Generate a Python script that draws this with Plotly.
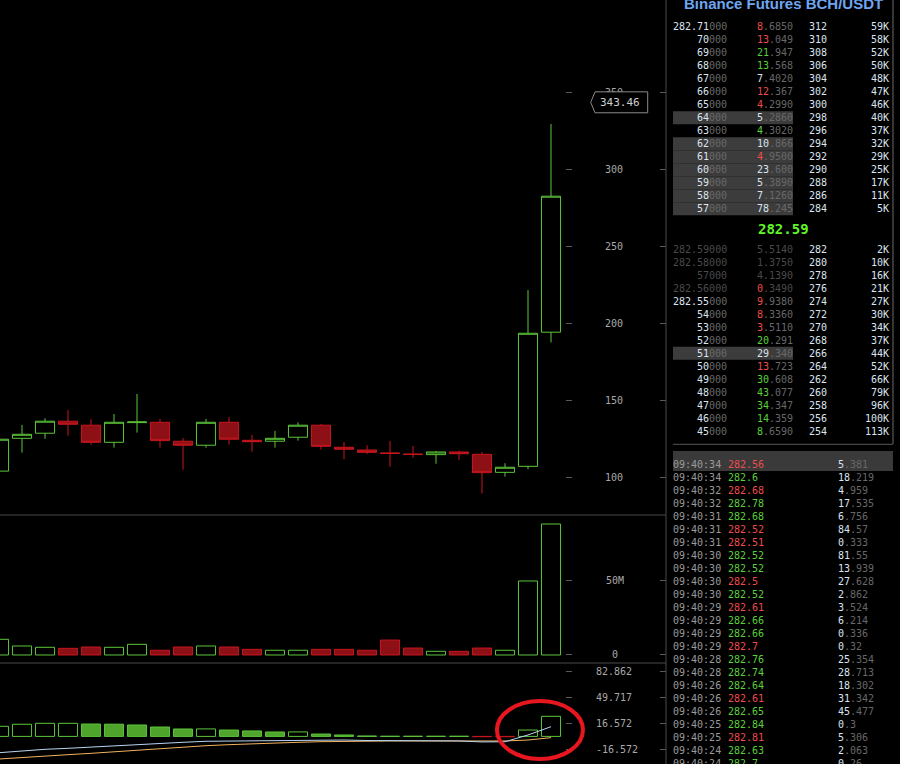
import plotly.graph_objects as go

W, H = 900, 764
MONO = "DejaVu Sans Mono"

# candles, oldest first (the first one is cut by the left edge)
opens = [104.0, 125.3, 128.6, 136.4, 133.8, 122.7, 135.5, 135.7, 123.4, 120.8, 135.7, 124.0, 123.4,
         126.0, 133.8, 119.5, 117.7, 115.8, 115.1, 114.7, 116.4, 114.9, 103.2, 107.1, 194.2]
closes = [124.7, 127.9, 136.4, 134.4, 122.7, 135.7, 135.9, 123.8, 120.8, 135.7, 124.7, 123.1, 125.3,
          133.8, 120.1, 118.2, 116.2, 115.5, 114.8, 116.4, 115.3, 103.0, 106.5, 193.5, 282.5]
highs = [125.5, 134.0, 138.3, 143.7, 137.7, 141.1, 154.1, 137.9, 125.5, 137.9, 139.2, 127.5, 130.1,
         135.7, 134.6, 122.9, 120.8, 123.6, 120.3, 117.1, 117.3, 116.4, 109.1, 221.6, 329.4]
lows = [103.0, 116.0, 125.0, 127.0, 121.2, 119.2, 129.0, 119.2, 104.9, 119.2, 121.2, 116.6, 119.2,
        123.8, 117.9, 111.7, 115.1, 106.9, 112.7, 108.8, 111.2, 89.4, 100.4, 105.2, 187.6]
volume_m = [10.6, 6.1, 5.2, 4.5, 5.4, 5.2, 7.2, 3.2, 5.4, 6.1, 5.4, 3.8, 3.2,
            3.2, 3.8, 3.8, 3.2, 10.1, 4.7, 2.5, 2.5, 4.7, 3.2, 50.0, 88.5]
macd_hist = [12.8, 15.4, 16.6, 16.6, 15.7, 15.5, 14.5, 11.9, 9.4, 9.5, 8.1, 6.9, 5.6,
             5.7, 3.0, 1.8, 0.5, 0.2, 0.2, 0.2, 0.2, -0.4, -0.4, 8.1, 25.5]
macd_dif = [-20.7, -18.5, -16.4, -15.1, -13.4, -11.8, -10.0, -8.8, -7.5, -6.2, -5.8, -5.4, -5.0,
            -4.6, -4.6, -4.6, -5.2, -5.2, -5.4, -5.6, -5.8, -7.0, -6.8, 1.8, 12.3]
macd_dea = [-28.7, -26.6, -24.9, -23.2, -21.5, -19.4, -17.3, -15.1, -13.1, -11.8, -10.5, -9.3, -8.4,
            -7.5, -6.7, -6.2, -5.8, -5.8, -5.8, -5.8, -5.8, -5.8, -5.8, -4.6, -1.6]
last_price_tag = 343.46

price_ticks = [100, 150, 200, 250, 300, 350]
volume_ticks = [0, 50e6]
volume_tick_text = ["\u00a00", "50M"]
macd_ticks = [-16.572, 16.572, 49.717, 82.862]

# order book
ask_price = ["282.71000", "70000", "69000", "68000", "67000", "66000", "65000", "64000",
             "63000", "62000", "61000", "60000", "59000", "58000", "57000"]
ask_qty = ["8.6850", "13.049", "21.947", "13.568", "7.4020", "12.367", "4.2990", "5.2860",
           "4.3020", "10.866", "4.9500", "23.600", "5.3890", "7.1260", "78.245"]
ask_tone = ["r", "r", "g", "g", "w", "r", "r", "w", "g", "w", "r", "w", "w", "w", "w"]
ask_level = [312, 310, 308, 306, 304, 302, 300, 298, 296, 294, 292, 290, 288, 286, 284]
ask_depth = ["59K", "58K", "52K", "50K", "48K", "47K", "46K", "40K", "37K", "32K", "29K",
             "25K", "17K", "11K", "5K"]
ask_marked = [7, 9, 10, 11, 12, 13, 14]
mid_price = "282.59"

bid_price = ["282.59000", "282.58000", "57000", "282.56000", "282.55000", "54000", "53000",
             "52000", "51000", "50000", "49000", "48000", "47000", "46000", "45000"]
bid_qty = ["5.5140", "1.3750", "4.1390", "0.3490", "9.9380", "8.3360", "3.5110", "20.291",
           "29.340", "13.723", "30.608", "43.077", "34.347", "14.359", "8.6590"]
bid_tone = ["d", "d", "d", "r", "r", "r", "r", "g", "w", "r", "g", "g", "g", "g", "g"]
bid_level = [282, 280, 278, 276, 274, 272, 270, 268, 266, 264, 262, 260, 258, 256, 254]
bid_depth = ["2K", "10K", "16K", "21K", "27K", "30K", "34K", "37K", "44K", "52K", "66K",
             "79K", "96K", "100K", "113K"]
bid_marked = [8]
bid_faded = 4

# recent trades
trade_time = ["09:40:34", "09:40:34", "09:40:32", "09:40:32", "09:40:31", "09:40:31", "09:40:31",
              "09:40:30", "09:40:30", "09:40:30", "09:40:30", "09:40:29", "09:40:29", "09:40:29",
              "09:40:29", "09:40:28", "09:40:28", "09:40:26", "09:40:26", "09:40:26", "09:40:25",
              "09:40:25", "09:40:24", "09:40:24"]
trade_price = ["282.56", "282.6", "282.68", "282.78", "282.68", "282.52", "282.51", "282.52",
               "282.52", "282.5", "282.52", "282.61", "282.66", "282.66", "282.7", "282.76",
               "282.74", "282.64", "282.61", "282.65", "282.84", "282.81", "282.63", "282.7"]
trade_side = ["s", "b", "s", "b", "b", "s", "s", "b", "b", "s", "b", "s", "b", "b",
              "s", "b", "b", "b", "s", "b", "b", "s", "b", "b"]
trade_qty = ["5.381", "18.219", "4.959", "17.535", "6.756", "84.57", "0.333", "81.55", "13.939",
             "27.628", "2.862", "3.524", "6.214", "0.336", "0.32", "25.354", "28.713", "18.302",
             "31.342", "45.477", "0.3", "5.306", "2.063", "0.26"]

GREEN = "#5cc63a"
RED = "#c8161e"
RED_FILL = "#8c1016"
HIST_FILL = "#4fa42c"
BRIGHT = "#dde4f0"
DIM = "#686868"
FADED = "#4a4a4a"
TONE = {"r": "#ee4c4c", "g": "#5cd03c", "w": BRIGHT, "d": FADED}

fig = go.Figure()
idx = list(range(len(opens)))

fig.add_trace(go.Candlestick(
    x=idx, open=opens, high=highs, low=lows, close=closes, xaxis="x", yaxis="y",
    increasing=dict(line=dict(color=GREEN, width=1), fillcolor="black"),
    decreasing=dict(line=dict(color=RED, width=1), fillcolor=RED_FILL),
    hoverinfo="skip"))

up = [c >= o for o, c in zip(opens, closes)]
fig.add_trace(go.Bar(
    x=idx, y=[v * 1e6 for v in volume_m], width=0.83, yaxis="y2",
    marker=dict(color=["black" if u else RED_FILL for u in up],
                line=dict(color=[GREEN if u else RED for u in up], width=1))))

rising = [True] + [macd_hist[i] >= macd_hist[i - 1] for i in range(1, len(macd_hist))]
hist_fill = []
for h, r in zip(macd_hist, rising):
    if r:
        hist_fill.append("black")
    else:
        hist_fill.append(HIST_FILL if h >= 0 else RED_FILL)
fig.add_trace(go.Bar(
    x=idx, y=macd_hist, width=0.83, yaxis="y3",
    marker=dict(color=hist_fill, line=dict(color=[GREEN if h >= 0 else RED for h in macd_hist], width=1))))
fig.add_trace(go.Scatter(x=idx, y=macd_dea, yaxis="y3", mode="lines", line=dict(color="#f2b35e", width=1)))
fig.add_trace(go.Scatter(x=idx, y=macd_dif, yaxis="y3", mode="lines", line=dict(color="#b9d5f2", width=1)))

# empty traces so the edge tick axes get drawn
for ax in ["y4", "y5", "y6"]:
    fig.add_trace(go.Scatter(x=[None], y=[None], yaxis=ax, showlegend=False))


def py(p):
    return 1 - p / H


def add_text(px, ypx, text, anchor, size=10, color=BRIGHT, family=MONO):
    shift = {"left": -2, "right": 2, "center": 0}[anchor]
    fig.add_annotation(x=(px + shift) / W, y=py(ypx), xref="paper", yref="paper", text=text,
                       showarrow=False, xanchor=anchor, yanchor="middle",
                       font=dict(family=family, size=size, color=color))


def span(txt, col):
    return f'<span style="color:{col}">{txt}</span>'


def band(x0, x1, yc, half, color):
    fig.add_shape(type="rect", xref="paper", yref="paper", x0=x0 / W, x1=x1 / W,
                  y0=py(yc + half), y1=py(yc - half), fillcolor=color, line_width=0, layer="below")


def line(x0, y0, x1, y1, color):
    fig.add_shape(type="line", xref="paper", yref="paper", x0=x0 / W, x1=x1 / W,
                  y0=py(y0), y1=py(y1), line=dict(color=color, width=1))


# asks
for i in range(len(ask_price)):
    y = 26.7 + 13 * i
    if i in ask_marked:
        band(673, 793, y, 6.5, "#3c3c3c")
    p, q = ask_price[i], ask_qty[i]
    a, b = q.split(".")
    add_text(727, y, span(p[:-3], BRIGHT) + span(p[-3:], DIM), "right")
    add_text(793, y, span(a, TONE[ask_tone[i]]) + span("." + b, DIM), "right")
    add_text(809, y, str(ask_level[i]), "left")
    add_text(889, y, ask_depth[i], "right")

add_text(783, 229, "<b>" + mid_price + "</b>", "center", size=14, color="#5ef52a")

# bids
for i in range(len(bid_price)):
    y = 249.3 + 13 * i
    if i in bid_marked:
        band(673, 793, y, 6.5, "#3c3c3c")
    p, q = bid_price[i], bid_qty[i]
    a, b = q.split(".")
    if i < bid_faded:
        ptxt = span(p, FADED)
        qtxt = span(a, TONE[bid_tone[i]]) + span("." + b, FADED)
    else:
        ptxt = span(p[:-3], BRIGHT) + span(p[-3:], DIM)
        qtxt = span(a, TONE[bid_tone[i]]) + span("." + b, DIM)
    add_text(727, y, ptxt, "right")
    add_text(793, y, qtxt, "right")
    add_text(809, y, str(bid_level[i]), "left")
    add_text(889, y, bid_depth[i], "right")

# trades
band(673, 893, 461, 10, "#3a3a3a")
for i in range(len(trade_time)):
    y = 464.3 + 13 * i
    a, b = trade_qty[i].split(".")
    add_text(673, y, trade_time[i], "left", color="#9a9a9a")
    add_text(728, y, trade_price[i], "left", color=TONE["r"] if trade_side[i] == "s" else TONE["g"])
    add_text(838, y, span(a, BRIGHT) + span("." + b, DIM), "left")

add_text(783.5, 4, "<b>Binance Futures BCH/USDT</b>", "center", size=15,
         color="#6ea6f0", family="Liberation Sans")

# separators
line(666, 0, 666, H, "#4a4a4a")
line(0, 515, 666, 515, "#4a4a4a")
line(0, 663, 666, 663, "#4a4a4a")
line(673, 444.3, 893, 444.3, "#555555")
line(893, 0, 893, 444, "#6a6a6a")

# last price tag
tag_half = 6.8
fig.add_shape(type="path", xref="paper", yref="y", layer="above",
              path=(f"M {590.7 / W},{last_price_tag} L {595 / W},{last_price_tag + tag_half} "
                    f"L {647.7 / W},{last_price_tag + tag_half} L {647.7 / W},{last_price_tag - tag_half} "
                    f"L {595 / W},{last_price_tag - tag_half} Z"),
              fillcolor="black", line=dict(color="#8a8a8a", width=1))
fig.add_annotation(x=620 / W, y=last_price_tag, xref="paper", yref="y", text=f"{last_price_tag:.2f}",
                   showarrow=False, xanchor="center", yanchor="middle",
                   font=dict(family=MONO, size=11, color="#cfcfcf"))

# red hand-drawn ring around the last MACD bars
fig.add_shape(type="circle", xref="x", yref="y3", x0=21.65, x1=25.39, y0=-28.7, y1=44.9,
              line=dict(color="#e8161e", width=4), layer="above")

tick_font = dict(family=MONO, size=10, color="#a8a8a8")
axis_base = dict(side="right", anchor="free", ticks="outside", ticklen=6, tickcolor="#5a5a5a",
                 tickwidth=1, showgrid=False, zeroline=False, showline=False, fixedrange=True)

price_range = [75.5, 409.9]
vol_range = [-5.41e6, 94.59e6]
macd_range = [-35.03, 93.15]

fig.update_layout(
    width=W, height=H, margin=dict(l=0, r=0, t=0, b=0),
    paper_bgcolor="black", plot_bgcolor="black", showlegend=False,
    boxgap=0.17, boxgroupgap=0,
    xaxis=dict(domain=[0, 666 / W], range=[1 / 23, 667 / 23], visible=False,
               rangeslider=dict(visible=False), anchor="y3", fixedrange=True),
    yaxis=dict(domain=[1 - 515 / H, 1], range=price_range, position=565 / W,
               tickvals=price_ticks, ticktext=[str(t) for t in price_ticks],
               tickfont=tick_font, ticklabelstandoff=31, **axis_base),
    yaxis2=dict(domain=[1 - 663 / H, 1 - 515 / H], range=vol_range, position=565 / W,
                tickvals=volume_ticks, ticktext=volume_tick_text,
                tickfont=tick_font, ticklabelstandoff=32, **axis_base),
    yaxis3=dict(domain=[0, 1 - 663 / H], range=macd_range, position=565 / W,
                tickvals=macd_ticks, ticktext=[f"{t:.3f}" for t in macd_ticks],
                tickfont=tick_font, ticklabelstandoff=22, **axis_base),
    yaxis4=dict(overlaying="y", range=price_range, position=659 / W, tickvals=price_ticks,
                showticklabels=False, **axis_base),
    yaxis5=dict(overlaying="y2", range=vol_range, position=659 / W, tickvals=volume_ticks,
                showticklabels=False, **axis_base),
    yaxis6=dict(overlaying="y3", range=macd_range, position=659 / W, tickvals=macd_ticks,
                showticklabels=False, **axis_base),
)

fig.write_html("out.html", config={"displayModeBar": False},
               post_script="document.body.style.margin='0';document.body.style.overflow='hidden';")
